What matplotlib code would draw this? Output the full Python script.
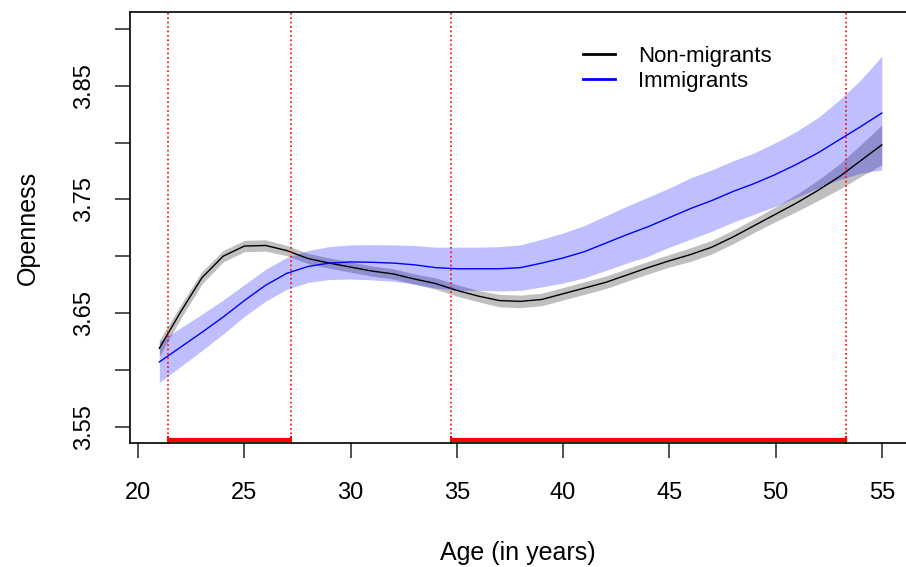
import matplotlib
matplotlib.use("Agg")
import matplotlib.pyplot as plt
import numpy as np

plt.rcParams['font.family'] = ['Liberation Sans', 'DejaVu Sans']

age = list(range(21, 56))

# fitted openness by age, with half-width of the confidence band
non_migrants = [3.619, 3.651, 3.681, 3.700, 3.709, 3.7095, 3.705, 3.698, 3.694, 3.6905,
                3.687, 3.6845, 3.680, 3.676, 3.670, 3.665, 3.661, 3.6603, 3.662, 3.667,
                3.672, 3.677, 3.6835, 3.690, 3.696, 3.7015, 3.708, 3.717, 3.727, 3.737,
                3.747, 3.758, 3.770, 3.784, 3.798]
non_migrants_ci = [0.007, 0.006, 0.0055, 0.005, 0.005, 0.005, 0.0045, 0.0045, 0.0045, 0.0045,
                   0.0045, 0.0045, 0.0045, 0.005, 0.005, 0.005, 0.0055, 0.0055, 0.0055, 0.0055,
                   0.0055, 0.0055, 0.0055, 0.0055, 0.0055, 0.006, 0.006, 0.006, 0.006, 0.0065,
                   0.0075, 0.009, 0.011, 0.014, 0.0175]

immigrants = [3.607, 3.620, 3.633, 3.6465, 3.661, 3.6745, 3.685, 3.691, 3.694, 3.695,
              3.6947, 3.694, 3.6925, 3.690, 3.689, 3.689, 3.689, 3.690, 3.694, 3.6985,
              3.704, 3.7115, 3.719, 3.726, 3.734, 3.742, 3.749, 3.757, 3.764, 3.772,
              3.781, 3.791, 3.8025, 3.814, 3.826]
immigrants_ci = [0.018, 0.017, 0.016, 0.015, 0.014, 0.014, 0.014, 0.014, 0.0145, 0.015,
                 0.0155, 0.016, 0.017, 0.018, 0.019, 0.019, 0.0195, 0.020, 0.021, 0.022,
                 0.023, 0.024, 0.025, 0.026, 0.026, 0.027, 0.027, 0.027, 0.027, 0.028,
                 0.029, 0.031, 0.035, 0.041, 0.050]

# age ranges where the two groups differ
sig_ranges = [(21.4, 27.2), (34.75, 53.3)]

x = np.array(age)
nm = np.array(non_migrants)
im = np.array(immigrants)
nm_ci = np.array(non_migrants_ci)
im_ci = np.array(immigrants_ci)

fig = plt.figure(figsize=(9.06, 5.67), dpi=100)
ax = fig.add_axes([0.1435, 0.2187, 0.8565, 0.7601])

ax.fill_between(x, nm - nm_ci, nm + nm_ci, color='black', alpha=0.25, lw=0)
ax.fill_between(x, im - im_ci, im + im_ci, color='blue', alpha=0.25, lw=0)
ax.plot(x, nm, color='black', lw=1.0)
ax.plot(x, im, color='blue', lw=1.0)

for lo, hi in sig_ranges:
    ax.axvline(lo, color='red', ls=':', lw=1.2)
    ax.axvline(hi, color='red', ls=':', lw=1.2)
    ax.plot([lo, hi], [3.5383, 3.5383], color='red', lw=3, solid_capstyle='butt')
    ax.plot([lo, hi], [3.5383, 3.5383], color='red', ls='none', marker='|', ms=6, mew=1.5)

ax.set_xlim(19.62, 56.14)
ax.set_ylim(3.5357, 3.9149)

ax.set_xticks([20, 25, 30, 35, 40, 45, 50, 55])
yt = [3.55, 3.60, 3.65, 3.70, 3.75, 3.80, 3.85, 3.90]
ax.set_yticks(yt)
ax.set_yticklabels(['3.55', '', '3.65', '', '3.75', '', '3.85', ''],
                   rotation=90, va='center')
ax.tick_params(axis='both', labelsize=17, length=11, width=1.2, color='#333333')
ax.tick_params(axis='x', pad=17)
ax.tick_params(axis='y', pad=14)

for side in ['left', 'bottom', 'top']:
    ax.spines[side].set_linewidth(1.2)
ax.spines['right'].set_visible(False)

ax.set_xlabel('Age (in years)', fontsize=18, labelpad=27)
ax.set_ylabel('Openness', fontsize=18, labelpad=24)

ax.plot([], [], color='black', lw=2, label='Non-migrants')
ax.plot([], [], color='blue', lw=2, label='Immigrants')
handles, labels = ax.get_legend_handles_labels()
ax.legend(handles[-2:], labels[-2:], loc='upper left', bbox_to_anchor=(0.584, 0.922),
          frameon=False, fontsize=16, handlelength=1.45, handletextpad=1.0,
          labelspacing=0.2, borderpad=0, borderaxespad=0)

fig.savefig('out.png', dpi=100)
